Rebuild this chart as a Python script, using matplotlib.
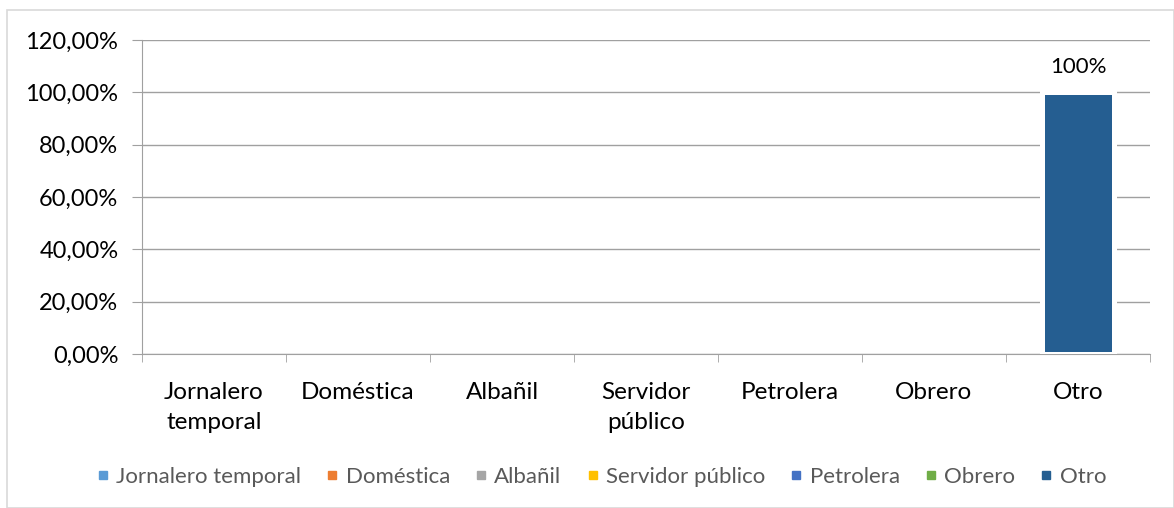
import matplotlib
matplotlib.use("Agg")
import matplotlib.pyplot as plt
from matplotlib.lines import Line2D
from matplotlib.patches import Rectangle
from matplotlib.ticker import FuncFormatter, MultipleLocator

categories = ["Jornalero\ntemporal", "Doméstica", "Albañil", "Servidor\npúblico",
              "Petrolera", "Obrero", "Otro"]
series_names = ["Jornalero temporal", "Doméstica", "Albañil", "Servidor público",
                "Petrolera", "Obrero", "Otro"]
values = [0.0, 0.0, 0.0, 0.0, 0.0, 0.0, 1.0]
labels = ["", "", "", "", "", "", "100%"]
colors = ["#5B9BD5", "#ED7D31", "#A5A5A5", "#FFC000", "#4472C4", "#70AD47", "#255E91"]

plt.rcParams['font.family'] = ['Lato', 'DejaVu Sans']

W, H = 1174, 508
fig = plt.figure(figsize=(W / 100, H / 100), dpi=100)
fig.patches.append(Rectangle((7 / W, 0), 1 - 7 / W, 1 - 10 / H, transform=fig.transFigure,
                             fill=False, edgecolor="#d9d9d9", linewidth=1.2))

left, right, top, bottom = 142, 1150, 40, 354
ax = fig.add_axes([left / W, 1 - bottom / H, (right - left) / W, (bottom - top) / H])

x = list(range(len(categories)))
lws = [3.6 if v > 0 else 0 for v in values]
ax.bar(x, values, width=0.5, color=colors, edgecolor="white", linewidth=lws, zorder=3)

for xi, v, lab in zip(x, values, labels):
    if lab:
        ax.text(xi, v + 0.095, lab, ha="center", va="center", fontsize=16, color="#000000", zorder=4)

ax.set_xlim(-0.5, len(categories) - 0.5)
ax.set_ylim(0, 1.2)
ax.yaxis.set_major_locator(MultipleLocator(0.2))
ax.yaxis.set_major_formatter(FuncFormatter(lambda v, p: f"{v*100:.2f}%".replace(".", ",")))
ax.grid(axis="y", color="#a0a0a0", linewidth=1.0, zorder=0)
ax.set_axisbelow(True)

for s in ["top", "right"]:
    ax.spines[s].set_visible(False)
ax.spines["left"].set_color("#a0a0a0")
ax.spines["bottom"].set_color("#a0a0a0")
ax.spines["left"].set_zorder(1)

ax.set_xticks(x)
ax.set_xticklabels(categories, fontsize=17.5, color="#000000", linespacing=1.55)
ax.tick_params(axis="x", length=0, pad=20)
ax.set_xticks([i - 0.5 for i in range(len(categories) + 1)], minor=True)
ax.tick_params(axis="x", which="minor", length=6, color="#a0a0a0")
ax.tick_params(axis="y", length=7, color="#a0a0a0", labelsize=17, labelcolor="#000000", pad=10)

handles = [Line2D([0], [0], marker="s", linestyle="none", markersize=6,
                  markerfacecolor=c, markeredgecolor=c) for c in colors]
fig.legend(handles, series_names, loc="center", bbox_to_anchor=(600 / W, 1 - 477 / H),
           ncol=7, frameon=False, fontsize=16, labelcolor="#595959",
           handletextpad=0.2, columnspacing=1.0, handlelength=0.8)

fig.savefig("out.png", dpi=100)
